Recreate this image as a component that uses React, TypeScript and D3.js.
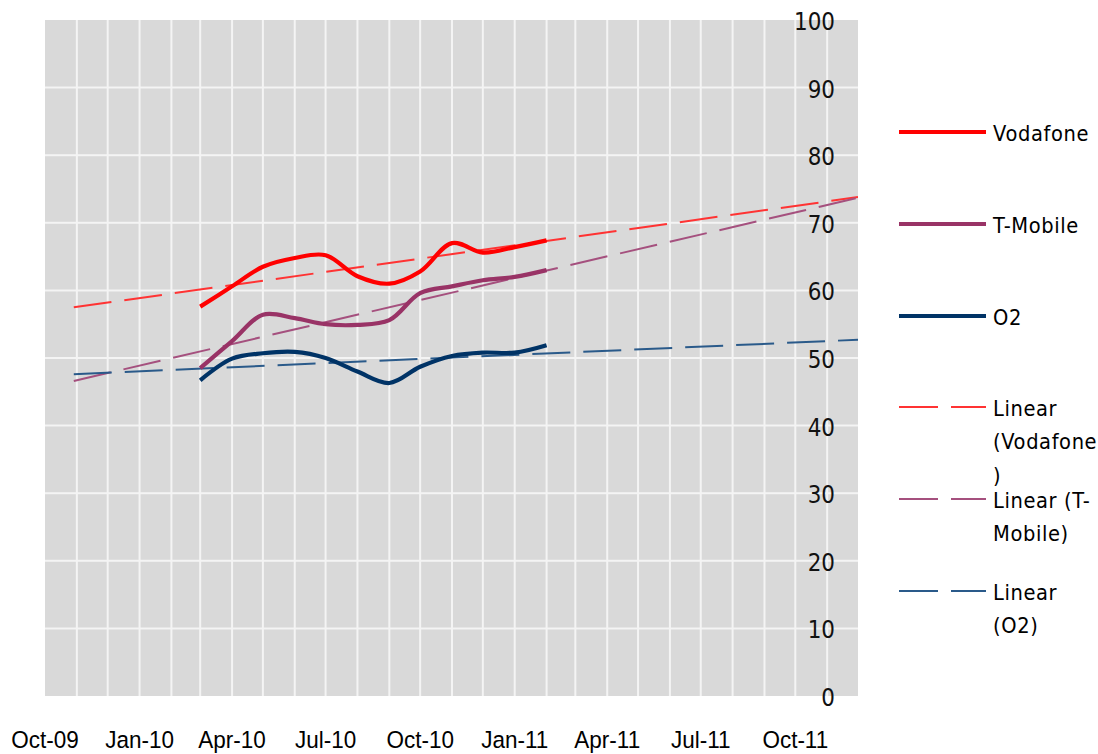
import React from "react";
import * as d3 from "d3";

// ---- data ----
const monthDates = [
  "2010-03-01", "2010-04-01", "2010-05-01", "2010-06-01", "2010-07-01", "2010-08-01",
  "2010-09-01", "2010-10-01", "2010-11-01", "2010-12-01", "2011-01-01", "2011-02-01",
];
const vodafone = [57.6, 60.6, 63.5, 64.8, 65.2, 62.1, 61.0, 62.8, 67.0, 65.6, 66.4, 67.4];
const tmobile = [48.5, 52.5, 56.4, 55.9, 55.0, 54.9, 55.6, 59.6, 60.6, 61.5, 62.0, 63.0];
const o2 = [46.7, 49.9, 50.7, 50.9, 50.0, 48.0, 46.3, 48.7, 50.3, 50.8, 50.8, 51.9];

const trendDates = ["2009-10-29", "2011-12-01"];
const vodafoneTrend = [57.5, 73.8];
const tmobileTrend = [46.6, 73.7];
const o2Trend = [47.6, 52.7];

const yTicks = [0, 10, 20, 30, 40, 50, 60, 70, 80, 90, 100];
const axisStart = "2009-10-01";
const axisEnd = "2011-12-01";

const legendItems = [
  { lines: ["Vodafone"], color: "#ff0000", dashed: false },
  { lines: ["T-Mobile"], color: "#993366", dashed: false },
  { lines: ["O2"], color: "#003366", dashed: false },
  { lines: ["Linear", "(Vodafone", ")"], color: "#ff3333", dashed: true },
  { lines: ["Linear (T-", "Mobile)"], color: "#a5507e", dashed: true },
  { lines: ["Linear", "(O2)"], color: "#2a5a8a", dashed: true },
];

const parse = d3.timeParse("%Y-%m-%d");

export default function App() {
  const W = 1098, H = 754;
  const left = 45, right = 858, top = 20, bottom = 696;

  const x = d3.scaleTime().domain([parse(axisStart)!, parse(axisEnd)!]).range([left, right]);
  const y = d3.scaleLinear().domain([0, 100]).range([bottom, top]);

  const dates = monthDates.map((d) => parse(d)!);
  const tDates = trendDates.map((d) => parse(d)!);

  const line = d3
    .line<[Date, number]>()
    .x((d) => x(d[0]))
    .y((d) => y(d[1]))
    .curve(d3.curveCatmullRom.alpha(0.5));
  const straight = d3
    .line<[Date, number]>()
    .x((d) => x(d[0]))
    .y((d) => y(d[1]));

  const series = [
    { vals: vodafone, color: "#ff0000" },
    { vals: tmobile, color: "#993366" },
    { vals: o2, color: "#003366" },
  ];
  const trends = [
    { vals: vodafoneTrend, color: "#ff3333" },
    { vals: tmobileTrend, color: "#a5507e" },
    { vals: o2Trend, color: "#2a5a8a" },
  ];

  const monthTicks = d3.timeMonth.range(d3.timeMonth.offset(x.domain()[0], 1), x.domain()[1]);
  const quarterTicks = d3.timeMonth
    .every(3)!
    .range(x.domain()[0], d3.timeDay.offset(x.domain()[1], 1))
    .filter((d) => d <= x.domain()[1]);
  const fmt = d3.timeFormat("%b-%y");

  const legendY = [132, 224, 316, 407, 499, 591];

  return (
    <svg
      width={W}
      height={H}
      style={{ position: "absolute", left: 0, top: 0, background: "#fff" }}
    >
      <defs>
        <clipPath id="plot">
          <rect x={left} y={top} width={right - left} height={bottom - top} />
        </clipPath>
      </defs>
      <rect x={left} y={top} width={right - left} height={bottom - top} fill="#d9d9d9" />
      {monthTicks.map((d, i) => (
        <line key={"v" + i} x1={x(d)} x2={x(d)} y1={top} y2={bottom} stroke="#f4f4f4" strokeWidth={2} />
      ))}
      {yTicks
        .filter((v) => v > 0 && v < 100)
        .map((v) => (
          <line key={"h" + v} x1={left} x2={right} y1={y(v)} y2={y(v)} stroke="#f4f4f4" strokeWidth={2} />
        ))}

      <g clipPath="url(#plot)">
        {trends.map((t, i) => (
          <path
            key={"t" + i}
            d={straight(tDates.map((d, j) => [d, t.vals[j]] as [Date, number]))!}
            fill="none"
            stroke={t.color}
            strokeWidth={2}
            strokeDasharray="38 13"
          />
        ))}
        {series.map((s, i) => (
          <path
            key={"s" + i}
            d={line(dates.map((d, j) => [d, s.vals[j]] as [Date, number]))!}
            fill="none"
            stroke={s.color}
            strokeWidth={4.2}
            strokeLinejoin="round"
          />
        ))}
      </g>

      {yTicks.map((v) => (
        <text
          key={"yl" + v}
          transform={`translate(835, ${y(v) + 1.5}) scale(1,1.15)`}
          textAnchor="end"
          dominantBaseline="central"
          fontFamily="DejaVu Sans"
          fontSize={21.5}
          fill="#111"
        >
          {v}
        </text>
      ))}

      {quarterTicks.map((d, i) => (
        <text
          key={"xl" + i}
          transform={`translate(${x(d)}, 740) scale(1,1.08)`}
          textAnchor="middle"
          dominantBaseline="central"
          fontFamily="Liberation Sans"
          fontSize={22.5}
          fill="#000"
        >
          {fmt(d)}
        </text>
      ))}

      {legendItems.map((it, i) => (
        <g key={"lg" + i}>
          <line
            x1={899}
            x2={986}
            y1={legendY[i]}
            y2={legendY[i]}
            stroke={it.color}
            strokeWidth={it.dashed ? 2 : 4}
            strokeDasharray={it.dashed ? "39 13" : undefined}
          />
          {it.lines.map((ln, k) => (
            <text
              key={k}
              transform={`translate(993, ${legendY[i] + 1.5 + k * 33.5}) scale(1,1.1)`}
              dominantBaseline="central"
              fontFamily="DejaVu Sans"
              fontSize={19.5}
              letterSpacing={0.6}
              fill="#000"
            >
              {ln}
            </text>
          ))}
        </g>
      ))}
    </svg>
  );
}
